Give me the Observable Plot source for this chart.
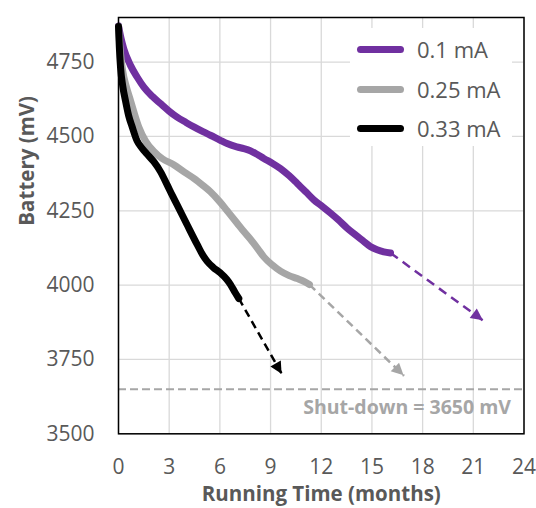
<!DOCTYPE html>
<html><head><meta charset="utf-8">
<script src="https://cdn.jsdelivr.net/npm/d3@7"></script>
<script src="https://cdn.jsdelivr.net/npm/@observablehq/plot@0.6"></script>
<style>
body{margin:0;background:#fff;font-family:"Open Sans",sans-serif;}
#wrap{position:relative;width:536px;height:508px;}
#legend{position:absolute;left:350px;top:28px;width:162px;height:118px;background:#fff;}
.item{position:absolute;left:0;height:0;width:162px;}
.sw{position:absolute;left:7px;width:47px;height:7px;border-radius:4px;top:-3.5px;}
.lab{position:absolute;left:67px;top:0;font-size:22px;color:#595959;line-height:1;transform:translateY(-52%);white-space:nowrap;}
</style>
</head><body>
<div id="wrap"><div id="chart"></div><div id="legend"></div></div>
<script>
// ---- data ----
const seriesNames = ["0.1 mA", "0.25 mA", "0.33 mA"];
const seriesColors = ["#7030A0", "#A6A6A6", "#000000"];

const monthsA = [0,0.15,0.31,0.71,1.1,1.5,2.0,2.49,3.0,3.47,4.0,4.46,5.0,5.44,6.0,6.43,7.0,7.42,7.8,8.2,8.6,9.1,9.59,10.1,10.58,11.1,11.56,12.05,12.55,13.0,13.53,14.0,14.52,14.9,15.31,15.7,16.1];
const mvA     = [4872,4830,4795,4739,4700,4666,4635,4610,4585,4565,4547,4532,4516,4504,4488,4476,4465,4459,4452,4440,4426,4410,4392,4368,4342,4313,4287,4265,4242,4220,4192,4170,4147,4130,4119,4112,4108];

const monthsB = [0,0.1,0.25,0.45,0.71,1.2,1.6,2.09,2.6,3.27,3.9,4.46,5.0,5.44,6.0,6.43,7.0,7.42,7.8,8.3,8.6,9.1,9.59,10.1,10.58,11.0,11.3];
const mvB     = [4870,4790,4720,4670,4621,4532,4485,4450,4425,4405,4380,4359,4335,4314,4280,4250,4210,4180,4155,4118,4095,4068,4047,4032,4022,4012,4002];

const monthsC = [0,0.05,0.12,0.25,0.41,0.6,0.81,1.1,1.4,1.7,2.09,2.5,2.88,3.2,3.47,4.06,4.66,5.0,5.25,5.6,6.03,6.4,6.63,6.9,7.12];
const mvC     = [4870,4800,4733,4670,4621,4570,4532,4485,4460,4440,4415,4380,4337,4300,4270,4203,4136,4100,4080,4060,4041,4020,4002,3975,3955];

// projection arrows: start month, start mV, end month, end mV
const arrowStartMonths = [16.1, 11.3, 7.12];
const arrowStartMV     = [4108, 4002, 3955];
const arrowEndMonths   = [21.6, 16.9, 9.68];
const arrowEndMV       = [3880, 3695, 3700];

const shutdownMV = 3650;
const shutdownLabel = "Shut-down = 3650 mV";
const xTicks = [0,3,6,9,12,15,18,21,24];
const yTicks = [3500,3750,4000,4250,4500,4750];
const xLabel = "Running Time (months)";
const yLabel = "Battery (mV)";

// ---- build ----
const seriesMonths = [monthsA, monthsB, monthsC];
const seriesMV = [mvA, mvB, mvC];
const lineData = seriesMonths.map((ms, s) => ms.map((m, i) => ({month: m, mv: seriesMV[s][i]})));
const arrows = arrowStartMonths.map((m, i) => ({x1: m, y1: arrowStartMV[i], x2: arrowEndMonths[i], y2: arrowEndMV[i]}));
const dashes = ["9,6", "8,5", "8,5"];

function headMark(i) {
  const color = seriesColors[i];
  return Plot.link([arrows[i]], {
    x1: "x1", y1: "y1", x2: "x2", y2: "y2",
    render(index, scales, values) {
      const g = d3.create("svg:g");
      for (const j of index) {
        const x1 = values.x1[j], y1 = values.y1[j], x2 = values.x2[j], y2 = values.y2[j];
        const a = Math.atan2(y2 - y1, x2 - x1);
        const L = 12, W = 6;
        const bx = x2 - L * Math.cos(a), by = y2 - L * Math.sin(a);
        const px = -Math.sin(a) * W, py = Math.cos(a) * W;
        g.append("path")
          .attr("d", `M${x2},${y2}L${bx + px},${by + py}L${bx - px},${by - py}Z`)
          .attr("fill", color);
      }
      return g.node();
    }
  });
}

const marks = [
  Plot.gridX(xTicks, {stroke: "#d9d9d9", strokeOpacity: 1, strokeWidth: 1.3}),
  Plot.gridY(yTicks, {stroke: "#d9d9d9", strokeOpacity: 1, strokeWidth: 1.3}),
  Plot.ruleY([shutdownMV], {stroke: "#a6a6a6", strokeWidth: 2, strokeDasharray: "8,4"}),
  Plot.text([shutdownLabel], {x: 24, y: shutdownMV, text: d => d, textAnchor: "end", dx: -13, dy: 19,
    fill: "#a6a6a6", fontSize: 19.5, fontWeight: "bold", fontFamily: "Open Sans"}),
];
for (let i = 0; i < 3; i++) {
  marks.push(Plot.link([arrows[i]], {
    x1: "x1", y1: "y1", x2: "x2", y2: "y2",
    stroke: seriesColors[i], strokeWidth: 2.5, strokeDasharray: dashes[i]
  }));
  marks.push(headMark(i));
}
for (let i = 0; i < 3; i++) {
  marks.push(Plot.line(lineData[i], {x: "month", y: "mv", stroke: seriesColors[i], strokeWidth: 7,
    strokeLinecap: "round", strokeLinejoin: "round", curve: "monotone-x"}));
}
marks.push(
  Plot.frame({stroke: "#000", strokeWidth: 1.5}),
  Plot.axisX(xTicks, {tickSize: 0, tickPadding: 25, fontSize: 21, label: null, tickFormat: d => String(d)}),
  Plot.axisY(yTicks, {tickSize: 0, tickPadding: 24, fontSize: 21, label: null, tickFormat: d => String(d)}),
  Plot.text([xLabel], {frameAnchor: "bottom", text: d => d, dy: 67, fontSize: 20.5, fontWeight: "bold", fill: "#595959"}),
  Plot.text([yLabel], {frameAnchor: "left", text: d => d, dx: -91, rotate: -90, fontSize: 20.5, fontWeight: "bold", fill: "#595959"})
);

const chart = Plot.plot({
  width: 536, height: 508,
  marginLeft: 118, marginTop: 17, marginRight: 12.5, marginBottom: 74.7,
  style: {fontFamily: "Open Sans", color: "#595959", background: "#fff", overflow: "visible"},
  x: {domain: [0, 24]},
  y: {domain: [3500, 4900]},
  marks
});
document.getElementById("chart").appendChild(chart);

// legend
const leg = document.getElementById("legend");
const rowsY = [21, 61, 100];
seriesNames.forEach((name, i) => {
  const item = document.createElement("div");
  item.className = "item"; item.style.top = rowsY[i] + "px";
  const sw = document.createElement("div");
  sw.className = "sw"; sw.style.background = seriesColors[i];
  const lab = document.createElement("div");
  lab.className = "lab"; lab.textContent = name;
  item.appendChild(sw); item.appendChild(lab); leg.appendChild(item);
});
</script>
</body></html>
